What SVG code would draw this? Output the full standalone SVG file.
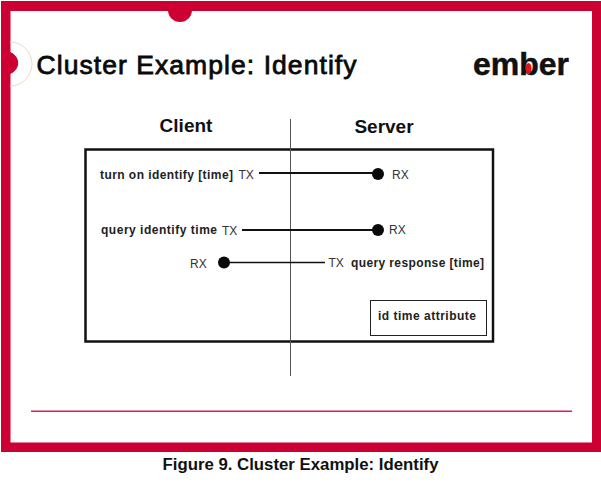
<svg xmlns="http://www.w3.org/2000/svg" width="601" height="485" viewBox="0 0 601 485">
<style>
.s{font-family:"Liberation Sans",Arial,sans-serif}
.b{font-weight:bold;fill:#222}
.lb{font-size:12px}
.t{font-size:12px;fill:#333}
.w{stroke:#111;stroke-width:2;fill:none}
.h{font-size:19px;font-weight:bold;fill:#111}
</style>
<rect width="601" height="485" fill="#fff"/>
<g id="frame">
<path fill-rule="evenodd" fill="#cc0033" d="M1 1H601V452H1ZM10.500 11V442.500H592V11Z"/>
<path d="M168 10A12 12 0 0 0 192 10Z" fill="#cc0033"/>
<path d="M10 42A22 22 0 0 1 10 86" fill="none" stroke="#e4dcc0" stroke-width="1"/>
<path d="M10 52.500A11 11 0 0 1 10 73.500Z" fill="#cc0033" stroke="#cc0033"/>
<rect x="31" y="410.500" width="541" height="1.500" fill="#e8184a"/>
</g>
<text id="title" class="s" x="36.500" y="74" font-size="26.500" fill="#0a0a0a" stroke="#0a0a0a" stroke-width=".8" textLength="320">Cluster Example: Identify</text>
<g id="logo">
<text class="s" x="473" y="75" font-size="32" font-weight="bold" fill="#111" stroke="#111" stroke-width=".5" textLength="96" lengthAdjust="spacingAndGlyphs">ember</text>
<ellipse cx="528.500" cy="68.500" rx="3" ry="5.500" fill="#e0141e"/>
</g>
<g id="connectors">
<rect class="w" x="85.500" y="149.500" width="407.500" height="192" style="stroke-width:2.500"/>
<line x1="290.500" y1="119" x2="290.500" y2="376" stroke="#555" stroke-width="1"/>
<line class="w" x1="259" y1="173" x2="378" y2="173"/>
<line class="w" x1="242" y1="230" x2="378" y2="230"/>
<line class="w" x1="224" y1="262.500" x2="325" y2="262.500" style="stroke-width:1.600"/>
</g>
<g id="client-header"><text class="s h" x="186" y="132" text-anchor="middle">Client</text></g>
<g id="server-header"><text class="s h" x="384" y="133" text-anchor="middle">Server</text></g>
<g id="turn-on">
<text class="s b lb" x="100" y="179" textLength="133">turn on identify [time]</text>
<text class="s t" x="238.500" y="179">TX</text>
</g>
<g id="rx1">
<circle cx="378" cy="174" r="6" fill="#0a0a0a"/>
<text class="s t" x="392" y="179">RX</text>
</g>
<g id="query">
<text class="s b lb" x="101" y="234" textLength="116">query identify time</text>
<text class="s t" x="222" y="235">TX</text>
</g>
<g id="rx2">
<circle cx="378" cy="230" r="6" fill="#0a0a0a"/>
<text class="s t" x="389" y="234">RX</text>
</g>
<g id="rx3">
<text class="s t" x="190" y="268">RX</text>
<circle cx="224" cy="262.500" r="6" fill="#0a0a0a"/>
</g>
<g id="response">
<text class="s t" x="328.500" y="267">TX</text>
<text class="s b lb" x="351" y="267" textLength="133">query response [time]</text>
</g>
<g id="attribute">
<rect x="370.500" y="300.500" width="116" height="35" fill="#fff" stroke="#222" stroke-width="1"/>
<text class="s b lb" x="378" y="320" textLength="98">id time attribute</text>
</g>
<text id="caption" class="s" x="300.500" y="470" font-size="16.800" font-weight="bold" fill="#111" text-anchor="middle">Figure 9. Cluster Example: Identify</text>
</svg>
